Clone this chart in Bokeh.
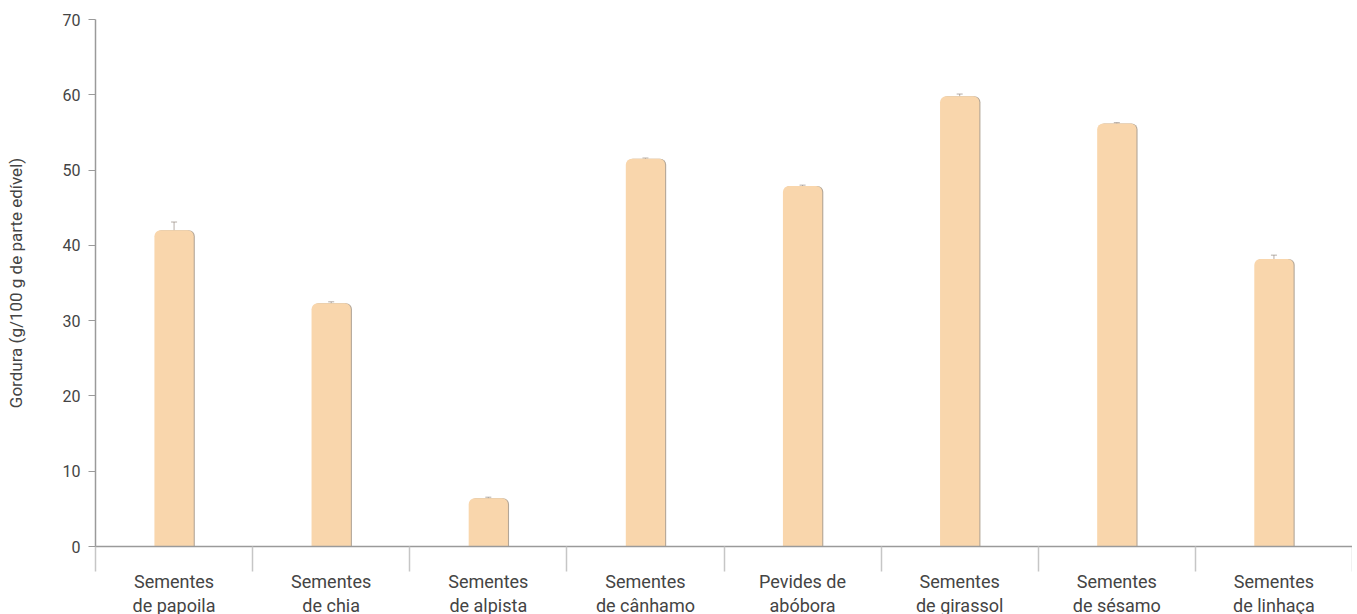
from bokeh.plotting import figure
from bokeh.models import (Range1d, LinearAxis, FixedTicker, Whisker,
                          ColumnDataSource, TeeHead)
from bokeh.embed import file_html
from bokeh.resources import INLINE

# ---- data ----
categories = ["Sementes de papoila", "Sementes de chia", "Sementes de alpista",
              "Sementes de cânhamo", "Pevides de abóbora", "Sementes de girassol",
              "Sementes de sésamo", "Sementes de linhaça"]
category_labels = ["Sementes\nde papoila", "Sementes\nde chia", "Sementes\nde alpista",
                   "Sementes\nde cânhamo", "Pevides de\nabóbora", "Sementes\nde girassol",
                   "Sementes\nde sésamo", "Sementes\nde linhaça"]
fat = [42.0, 32.3, 6.4, 51.5, 47.9, 59.8, 56.2, 38.2]
fat_err = [1.1, 0.2, 0.15, 0.1, 0.1, 0.3, 0.1, 0.5]
y_ticks = [0, 10, 20, 30, 40, 50, 60, 70]
y_title = "Gordura (g/100 g de parte edível)"

FONT = "Roboto"
TXT = "#444444"
AXIS = "#9a9a9a"
LBL_SIZE = "18px"

n = len(categories)
centers = [i + 0.5 for i in range(n)]          # slot centres on a 0..n category axis
line1 = [lab.split("\n")[0] for lab in category_labels]
line2 = [lab.split("\n")[1] for lab in category_labels]
source = ColumnDataSource(dict(
    x=centers, x_shadow=[c + 0.007 for c in centers], cat=categories, fat=fat,
    upper=[v + e for v, e in zip(fat, fat_err)],
    lower=[v - e for v, e in zip(fat, fat_err)],
))

p = figure(frame_width=1257, frame_height=527, x_range=Range1d(0, n),
           y_range=Range1d(0, y_ticks[-1]), output_backend="svg",
           toolbar_location=None, x_axis_location=None,
           min_border_left=95, min_border_top=19, min_border_right=0,
           min_border_bottom=0)
p.outline_line_color = None
p.xgrid.visible = False
p.ygrid.visible = False
p.background_fill_color = "white"
p.border_fill_color = "white"

# category axis, first label line; separators as minor ticks at slot edges
xaxis = LinearAxis(ticker=FixedTicker(ticks=centers, minor_ticks=list(range(n + 1))),
                   major_label_overrides={c: t for c, t in zip(centers, line1)})
xaxis.axis_line_color = AXIS
xaxis.axis_line_width = 1.5
xaxis.major_tick_out = 0
xaxis.major_tick_in = 0
xaxis.major_tick_line_color = None
xaxis.minor_tick_out = 25
xaxis.minor_tick_in = 0
xaxis.minor_tick_line_color = "#c6c6c6"
xaxis.minor_tick_line_width = 1.5
xaxis.major_label_standoff = -1
xaxis.major_label_text_font = FONT
xaxis.major_label_text_font_size = LBL_SIZE
xaxis.major_label_text_color = TXT
p.add_layout(xaxis, "below")

# second label line
xaxis2 = LinearAxis(ticker=FixedTicker(ticks=centers),
                    major_label_overrides={c: t for c, t in zip(centers, line2)})
xaxis2.axis_line_color = None
xaxis2.major_tick_line_color = None
xaxis2.major_tick_out = 0
xaxis2.major_tick_in = 0
xaxis2.minor_tick_line_color = None
xaxis2.major_label_standoff = 0
xaxis2.major_label_text_font = FONT
xaxis2.major_label_text_font_size = LBL_SIZE
xaxis2.major_label_text_color = TXT
p.add_layout(xaxis2, "below")

# y axis
ya = p.yaxis[0]
ya.ticker = FixedTicker(ticks=y_ticks)
ya.axis_line_color = AXIS
ya.axis_line_width = 1.5
ya.major_tick_out = 7
ya.major_tick_in = 0
ya.major_tick_line_color = AXIS
ya.minor_tick_line_color = None
ya.major_label_standoff = 8
ya.major_label_text_font = FONT
ya.major_label_text_font_size = "16px"
ya.major_label_text_color = TXT
ya.axis_label = y_title
ya.axis_label_text_font = FONT
ya.axis_label_text_font_size = "17px"
ya.axis_label_text_font_style = "normal"
ya.axis_label_text_color = TXT
ya.axis_label_standoff = 34

# bars: shadow then bar
p.vbar(x="x_shadow", top="fat", width=0.25, source=source,
       fill_color="#b3a697", line_color=None, border_radius=(6, 6, 0, 0))
p.vbar(x="x", top="fat", width=0.25, source=source,
       fill_color="#F9D6AC", line_color=None, border_radius=(6, 6, 0, 0))

wc = "#8c8076"
w = Whisker(base="x", upper="upper", lower="lower", source=source,
            line_color=wc, line_width=0.8, line_alpha=0.8,
            upper_head=TeeHead(size=6, line_color=wc, line_width=0.8, line_alpha=0.8),
            lower_head=TeeHead(size=6, line_color=wc, line_width=0.8, line_alpha=0.8))
p.add_layout(w)

open("out.html", "w").write(file_html(p, INLINE))
